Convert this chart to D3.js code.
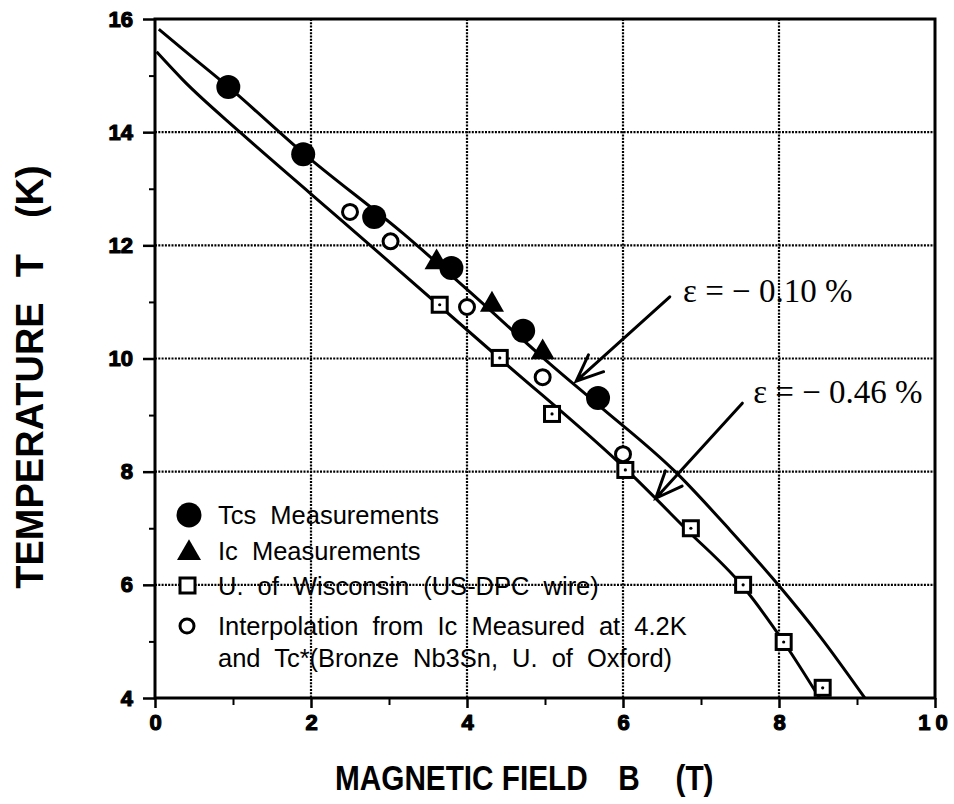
<!DOCTYPE html>
<html>
<head>
<meta charset="utf-8">
<script src="https://cdn.jsdelivr.net/npm/d3@7"></script>
<style>
  body { margin: 0; background: #fff; }
  svg { display: block; }
</style>
</head>
<body>
<svg id="chart" width="954" height="804"></svg>
<script>
// Axis ticks
const xTicks = [0, 2, 4, 6, 8, 10];
const yTicks = [4, 6, 8, 10, 12, 14, 16];
const xMinor = [1, 3, 5, 7, 9];
const yMinor = [5, 7, 9, 11, 13, 15];

// Tcs measurements (filled circles)
const tcsB = [0.94, 1.90, 2.81, 3.80, 4.72, 5.68];
const tcsT = [14.80, 13.61, 12.50, 11.60, 10.49, 9.30];

// Ic measurements (filled triangles)
const icB = [3.61, 4.32, 4.97];
const icT = [11.70, 10.95, 10.11];

// U. of Wisconsin (squares)
const wiscB = [3.65, 4.42, 5.09, 6.03, 6.87, 7.54, 8.06, 8.56];
const wiscT = [10.95, 10.01, 9.02, 8.03, 7.00, 6.00, 4.99, 4.18];

// Interpolation from Ic at 4.2 K (open circles)
const interpB = [2.50, 3.02, 4.00, 4.97, 6.00];
const interpT = [12.59, 12.07, 10.91, 9.67, 8.31];

// Tc*(B) curves for two strain values
const eps010B = [0.05, 0.37, 0.95, 1.90, 3.18, 4.00, 5.06, 5.70, 6.67, 7.37, 7.99, 8.53, 9.10];
const eps010T = [15.82, 15.45, 14.79, 13.63, 12.21, 11.22, 9.91, 9.16, 8.00, 6.97, 6.00, 5.08, 4.00];
const eps046B = [0.02, 0.36, 1.09, 1.99, 2.76, 4.42, 6.07, 6.82, 7.52, 8.06, 8.52];
const eps046T = [15.42, 14.92, 14.00, 12.92, 12.00, 10.00, 8.00, 6.97, 6.00, 4.99, 4.00];

// Strain annotations (text anchor and arrow, in data units)
const annoText = ["\u03b5 = \u2212 0.10 %", "\u03b5 = \u2212 0.46 %"];
const annoTextB = [6.77, 7.67];
const annoTextT = [11.00, 9.21];
const arrowFromB = [6.60, 7.53];
const arrowFromT = [11.09, 9.21];
const arrowToB = [5.40, 6.42];
const arrowToT = [9.60, 7.53];

// Legend entries
const legendLabels = [
  "Tcs Measurements",
  "Ic Measurements",
  "U. of Wisconsin (US-DPC wire)",
  "Interpolation from Ic Measured at 4.2K",
  "and Tc*(Bronze Nb3Sn, U. of Oxford)"
];

const svg = d3.select("#chart");
const plotLeft = 155, plotRight = 935, plotTop = 19, plotBottom = 698;

const x = d3.scaleLinear().domain([0, 10]).range([plotLeft, plotRight]);
const y = d3.scaleLinear().domain([4, 16]).range([plotBottom, plotTop]);

const sans = "'Liberation Sans', Arial, Helvetica, sans-serif";
const serif = "'Liberation Serif', 'Times New Roman', serif";

// Dotted grid
const grid = svg.append("g").attr("stroke", "#000").attr("stroke-width", 2.2)
  .attr("stroke-dasharray", "2,1.3").attr("fill", "none");
grid.selectAll("line.v").data(xTicks.slice(1, -1)).join("line").attr("class", "v")
  .attr("x1", d => x(d)).attr("x2", d => x(d)).attr("y1", plotTop).attr("y2", plotBottom);
grid.selectAll("line.h").data(yTicks.slice(1, -1)).join("line").attr("class", "h")
  .attr("x1", plotLeft).attr("x2", plotRight).attr("y1", d => y(d)).attr("y2", d => y(d));

// Frame
svg.append("rect").attr("x", plotLeft).attr("y", plotTop)
  .attr("width", plotRight - plotLeft).attr("height", plotBottom - plotTop)
  .attr("fill", "none").attr("stroke", "#000").attr("stroke-width", 3);

// Heavy tick label styling
function tickLabelStyle(sel) {
  sel.attr("font-family", sans).attr("font-size", 22).attr("font-weight", "bold")
    .attr("fill", "#000").attr("stroke", "#000").attr("stroke-width", 1.2)
    .attr("stroke-linejoin", "round");
}

// Axes
const xAxis = svg.append("g").attr("transform", `translate(0,${plotBottom})`)
  .call(d3.axisBottom(x).tickValues(xTicks).tickSize(10).tickPadding(6)
    .tickFormat(d3.format("d")));
xAxis.select(".domain").remove();
xAxis.selectAll(".tick line").attr("stroke-width", 2.5);
xAxis.selectAll(".tick text").call(tickLabelStyle)
  .attr("letter-spacing", d => d === 10 ? 5 : 0);

const xMinorAxis = svg.append("g").attr("transform", `translate(0,${plotBottom})`)
  .call(d3.axisBottom(x).tickValues(xMinor).tickSize(7).tickFormat(""));
xMinorAxis.select(".domain").remove();
xMinorAxis.selectAll(".tick line").attr("stroke-width", 2);

const yAxis = svg.append("g").attr("transform", `translate(${plotLeft},0)`)
  .call(d3.axisLeft(y).tickValues(yTicks).tickSize(12).tickPadding(10)
    .tickFormat(d3.format("d")));
yAxis.select(".domain").remove();
yAxis.selectAll(".tick line").attr("stroke-width", 2.5);
yAxis.selectAll(".tick text").call(tickLabelStyle);

const yMinorAxis = svg.append("g").attr("transform", `translate(${plotLeft},0)`)
  .call(d3.axisLeft(y).tickValues(yMinor).tickSize(6).tickFormat(""));
yMinorAxis.select(".domain").remove();
yMinorAxis.selectAll(".tick line").attr("stroke-width", 2);

// Axis titles
const xTitle = svg.append("text").attr("font-family", sans).attr("font-weight", "bold")
  .attr("font-size", 35).attr("fill", "#000")
  .attr("transform", `translate(335,790) scale(0.85,1)`);
xTitle.append("tspan").text("MAGNETIC FIELD");
xTitle.append("tspan").attr("dx", 36).text("B");
xTitle.append("tspan").attr("dx", 42).text("(T)");

const yTitle = svg.append("text").attr("font-family", sans).attr("font-weight", "bold")
  .attr("font-size", 38).attr("fill", "#000").attr("text-anchor", "middle")
  .attr("transform", `translate(43,377) rotate(-90)`);
yTitle.append("tspan").text("TEMPERATURE");
yTitle.append("tspan").attr("dx", 25).text("T");
yTitle.append("tspan").attr("dx", 36).text("(K)");

// Curves
const line = d3.line().x(d => x(d[0])).y(d => y(d[1])).curve(d3.curveMonotoneX);
const curves = [d3.zip(eps010B, eps010T), d3.zip(eps046B, eps046T)];
svg.append("g").selectAll("path").data(curves).join("path")
  .attr("d", line).attr("fill", "none").attr("stroke", "#000")
  .attr("stroke-width", 3).attr("stroke-linejoin", "round");

// Markers
const marks = svg.append("g");
marks.selectAll("circle.tcs").data(d3.zip(tcsB, tcsT)).join("circle").attr("class", "tcs")
  .attr("cx", d => x(d[0])).attr("cy", d => y(d[1])).attr("r", 12).attr("fill", "#000");

const tri = d3.symbol().type(d3.symbolTriangle).size(250);
marks.selectAll("path.ic").data(d3.zip(icB, icT)).join("path").attr("class", "ic")
  .attr("d", tri).attr("transform", d => `translate(${x(d[0])},${y(d[1])})`)
  .attr("fill", "#000");

marks.selectAll("circle.interp").data(d3.zip(interpB, interpT)).join("circle").attr("class", "interp")
  .attr("cx", d => x(d[0])).attr("cy", d => y(d[1])).attr("r", 7.5)
  .attr("fill", "#fff").attr("stroke", "#000").attr("stroke-width", 3);

const sq = marks.selectAll("g.wisc").data(d3.zip(wiscB, wiscT)).join("g").attr("class", "wisc")
  .attr("transform", d => `translate(${x(d[0])},${y(d[1])})`);
sq.append("rect").attr("x", -7.5).attr("y", -7.5).attr("width", 15).attr("height", 15)
  .attr("fill", "#fff").attr("stroke", "#000").attr("stroke-width", 3);
sq.append("circle").attr("r", 1.6).attr("fill", "#000");

// Annotations with arrows
const anno = svg.append("g");
annoText.forEach((t, i) => {
  anno.append("text").attr("x", x(annoTextB[i])).attr("y", y(annoTextT[i]))
    .attr("font-family", serif).attr("font-size", 33).attr("fill", "#000").text(t);
  const x0 = x(arrowFromB[i]), y0 = y(arrowFromT[i]);
  const x1 = x(arrowToB[i]), y1 = y(arrowToT[i]);
  const ang = Math.atan2(y0 - y1, x0 - x1);
  const spread = 23 * Math.PI / 180, len = 29;
  const path = d3.path();
  path.moveTo(x0, y0); path.lineTo(x1, y1);
  path.moveTo(x1 + len * Math.cos(ang - spread), y1 + len * Math.sin(ang - spread));
  path.lineTo(x1, y1);
  path.lineTo(x1 + len * Math.cos(ang + spread), y1 + len * Math.sin(ang + spread));
  anno.append("path").attr("d", path.toString()).attr("fill", "none")
    .attr("stroke", "#000").attr("stroke-width", 3).attr("stroke-linecap", "round");
});

// Legend
const legend = svg.append("g");
const rowY = [515, 551, 586, 626, 658];
const lx = 189;
legend.append("circle").attr("cx", lx).attr("cy", rowY[0]).attr("r", 12.5).attr("fill", "#000");
legend.append("path").attr("d", tri).attr("transform", `translate(${lx},${rowY[1] + 2})`).attr("fill", "#000");
legend.append("rect").attr("x", lx - 9).attr("y", rowY[2] - 8).attr("width", 15).attr("height", 15)
  .attr("fill", "#fff").attr("stroke", "#000").attr("stroke-width", 3);
legend.append("circle").attr("cx", lx - 2).attr("cy", rowY[3]).attr("r", 7)
  .attr("fill", "#fff").attr("stroke", "#000").attr("stroke-width", 3);
legend.selectAll("text").data(legendLabels).join("text")
  .attr("x", 218).attr("y", (d, i) => rowY[i] + 9)
  .attr("font-family", sans).attr("font-size", 25.5).attr("word-spacing", 7)
  .attr("fill", "#000").text(d => d);
</script>
</body>
</html>
